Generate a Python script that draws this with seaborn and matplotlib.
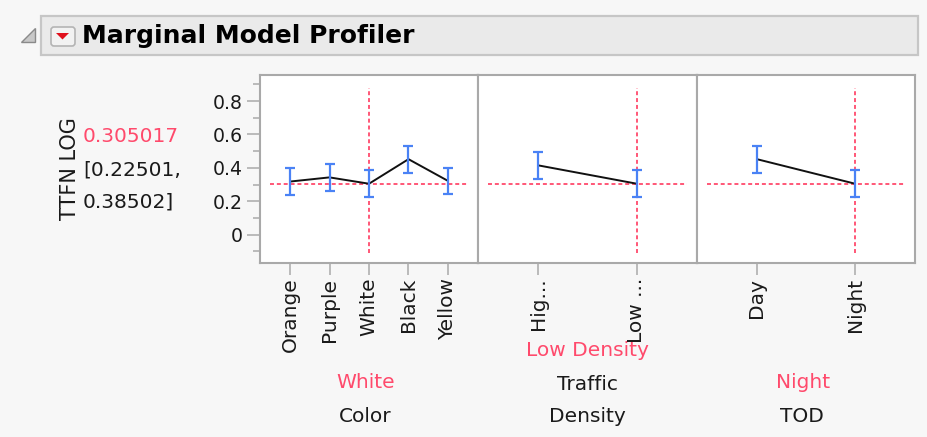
import matplotlib
matplotlib.use("Agg")
import matplotlib.pyplot as plt
import seaborn as sns
import pandas as pd
from matplotlib.patches import Rectangle, FancyBboxPatch, Polygon

# Marginal means of TTFN LOG with their confidence limits, per factor level
color_levels = ["Orange", "Purple", "White", "Black", "Yellow"]
color_mean = [0.318, 0.343, 0.305017, 0.452, 0.322]
color_lo = [0.238, 0.262, 0.22501, 0.370, 0.242]
color_hi = [0.398, 0.424, 0.38502, 0.532, 0.401]

density_levels = ["High Density", "Low Density"]
density_ticks = ["Hig...", "Low ..."]
density_mean = [0.415, 0.305017]
density_lo = [0.333, 0.22501]
density_hi = [0.496, 0.38502]

tod_levels = ["Day", "Night"]
tod_mean = [0.452, 0.305017]
tod_lo = [0.368, 0.22501]
tod_hi = [0.533, 0.38502]

current_value = 0.305017
current_lo = 0.22501
current_hi = 0.38502
current_levels = ["White", "Low Density", "Night"]
factor_names = ["Color", "Traffic\nDensity", "TOD"]
y_ticks = [0, 0.2, 0.4, 0.6, 0.8]
y_minor = [-0.1, 0.1, 0.3, 0.5, 0.7, 0.9]

sns.set_theme(style="white")
plt.rcParams["font.family"] = ["DejaVu Sans"]

W, H = 928, 437
BG = "#f7f7f7"
RED = "#ff4a6c"
BLUE = "#4a82f5"
GRID = "#a9a9a9"
INK = "#1a1a1a"

fig = plt.figure(figsize=(W / 100, H / 100), dpi=100, facecolor=BG)

# header and side annotations drawn in pixel space
hdr = fig.add_axes([0, 0, 1, 1], zorder=-1)
hdr.set_xlim(0, W)
hdr.set_ylim(H, 0)
hdr.axis("off")
hdr.add_patch(Rectangle((41, 16), 877, 39, facecolor="#eaeaea",
                        edgecolor="#c6c6c6", linewidth=1.6))
hdr.add_patch(Polygon([(35, 28), (35, 42), (21, 42)], closed=True,
                      facecolor="#c8c8c8", edgecolor="#8a8a8a", linewidth=1.0))
hdr.add_patch(FancyBboxPatch((51, 27), 24, 19, boxstyle="round,pad=0,rounding_size=3",
                             facecolor="#f2f2f2", edgecolor="#b4b4b4", linewidth=1.2))
hdr.add_patch(Polygon([(56, 33), (69, 33), (62.5, 39.5)], closed=True,
                      facecolor="#e0101c", edgecolor="none"))
hdr.text(82, 36.5, "Marginal Model Profiler", fontsize=18, fontweight="bold",
         color="black", ha="left", va="center")

# response label and current prediction with its interval
hdr.text(70, 169, "TTFN LOG", rotation=90, fontsize=15, color=INK,
         ha="center", va="center")
hdr.text(83, 137, f"{current_value:.6f}", fontsize=14.5, color=RED, ha="left", va="center")
hdr.text(83, 170, f"[{current_lo:.5f},", fontsize=14.5, color=INK, ha="left", va="center")
hdr.text(83, 202, f"{current_hi:.5f}]", fontsize=14.5, color=INK, ha="left", va="center")

panels = [
    (260, 478, color_levels, color_levels, color_mean, color_lo, color_hi, 2),
    (478, 697, density_levels, density_ticks, density_mean, density_lo, density_hi, 1),
    (697, 915, tod_levels, tod_levels, tod_mean, tod_lo, tod_hi, 1),
]
top, bottom = 75, 263
y_zero_px, px_per_unit = 234.7, 167.1
ylim = (-(bottom - y_zero_px) / px_per_unit, (y_zero_px - top) / px_per_unit)

for i, (x0, x1, levels, ticks, mean, lo, hi, cur) in enumerate(panels):
    ax = fig.add_axes([x0 / W, 1 - bottom / H, (x1 - x0) / W, (bottom - top) / H])
    ax.set_facecolor("white")
    n = len(levels)
    margin = 0.76 if n > 2 else 0.61
    ax.set_xlim(-margin, n - 1 + margin)
    ax.set_ylim(*ylim)

    df = pd.DataFrame({"pos": range(n), "mean": mean, "lo": lo, "hi": hi})
    # crosshair at the current setting
    inset = 10 / (x1 - x0)
    ax.axhline(current_value, xmin=inset, xmax=1 - inset, color=RED,
               linestyle=(0, (2.2, 1.6)), linewidth=1.3, zorder=1)
    ax.axvline(cur, ymin=10 / (bottom - top), ymax=1 - 13 / (bottom - top), color=RED,
               linestyle=(0, (2.2, 1.6)), linewidth=1.3, zorder=1)
    sns.lineplot(data=df, x="pos", y="mean", ax=ax, color="#111111",
                 linewidth=1.4, zorder=3, legend=False)
    ax.errorbar(df["pos"], df["mean"],
                yerr=[df["mean"] - df["lo"], df["hi"] - df["mean"]],
                fmt="none", ecolor=BLUE, elinewidth=1.6, capsize=3.4,
                capthick=1.6, zorder=4)

    ax.set_xlabel("")
    ax.set_ylabel("")
    ax.set_xticks(range(n))
    ax.set_xticklabels(ticks, rotation=90, fontsize=14.5, color=INK,
                       va="top", ha="center")
    ax.tick_params(axis="x", length=8.6, width=1.1, color=GRID, pad=2,
                   bottom=True, direction="out")
    for s in ax.spines.values():
        s.set_color(GRID)
        s.set_linewidth(1.5)
    if i == 0:
        ax.set_yticks(y_ticks)
        ax.set_yticklabels([f"{v:g}" for v in y_ticks], fontsize=13.6, color=INK)
        ax.set_yticks(y_minor, minor=True)
        ax.tick_params(axis="y", which="major", length=9.4, width=1.1, color=GRID,
                       pad=3, left=True, direction="out")
        ax.tick_params(axis="y", which="minor", length=5, width=1.1, color=GRID,
                       left=True, direction="out")
    else:
        ax.set_yticks([])

    cx = (x0 + x1) / 2
    if i == 1:
        hdr.text(cx, 350, current_levels[i], fontsize=14.5, color=RED,
                 ha="center", va="center", zorder=5)
        hdr.text(cx, 384, "Traffic", fontsize=14.5, color=INK, ha="center", va="center")
        hdr.text(cx, 416, "Density", fontsize=14.5, color=INK, ha="center", va="center")
    else:
        hdr.text(cx - 3, 382, current_levels[i], fontsize=14.5, color=RED,
                 ha="center", va="center")
        hdr.text(cx - 4, 416, factor_names[i], fontsize=14.5, color=INK,
                 ha="center", va="center")

fig.savefig("out.png", dpi=100, facecolor=BG)
